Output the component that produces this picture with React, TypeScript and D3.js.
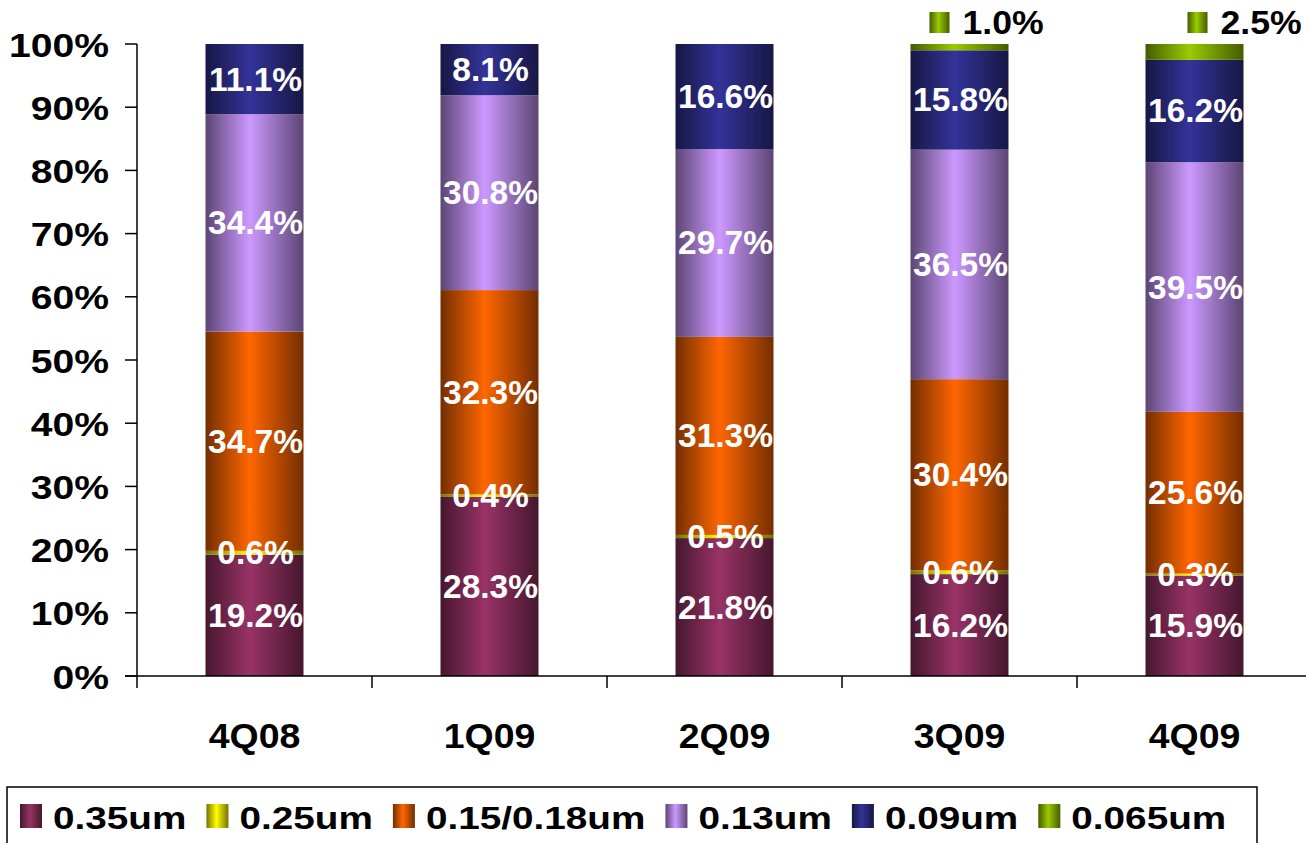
import React from "react";
import * as d3 from "d3";

const categories = ["4Q08", "1Q09", "2Q09", "3Q09", "4Q09"];
const seriesNames = ["0.35um", "0.25um", "0.15/0.18um", "0.13um", "0.09um", "0.065um"];
const seriesColors = ["#993366", "#FFFF00", "#FF6600", "#CC99FF", "#333399", "#99CC00"];
const s035 = [19.2, 28.3, 21.8, 16.2, 15.9];
const s025 = [0.6, 0.4, 0.5, 0.6, 0.3];
const s015 = [34.7, 32.3, 31.3, 30.4, 25.6];
const s013 = [34.4, 30.8, 29.7, 36.5, 39.5];
const s009 = [11.1, 8.1, 16.6, 15.8, 16.2];
const s0065 = [0, 0, 0, 1.0, 2.5];
const yTicks = [0, 10, 20, 30, 40, 50, 60, 70, 80, 90, 100];

const W = 1306;
const H = 843;
const FONT = "'Liberation Sans', Arial, Helvetica, sans-serif";

function darken(c: string, k: number) {
  const col = d3.rgb(c);
  return d3.rgb(col.r * k, col.g * k, col.b * k).formatHex();
}

function SText(props: { x: number; y: number; sx: number; size: number; fill: string; anchor: string; children: any }) {
  return (
    <text
      transform={`translate(${props.x},${props.y}) scale(${props.sx},1)`}
      textAnchor={props.anchor as any}
      dominantBaseline="central"
      fontFamily={FONT}
      fontWeight="bold"
      fontSize={props.size}
      fill={props.fill}
    >
      {props.children}
    </text>
  );
}

export default function App() {
  const series = [s035, s025, s015, s013, s009, s0065];
  const left = 137;
  const bottom = 676;
  const top = 44;
  const x = d3.scaleBand<string>().domain(categories).range([left, left + 235 * 5]).padding(0);
  const y = d3.scaleLinear().domain([0, 100]).range([bottom, top]);
  const barW = x.bandwidth() * 0.417;
  const topLabelShift = [0, 0, 0, 0, 23];

  const rows = categories.map((c, i) => {
    const r: any = { cat: c };
    seriesNames.forEach((n, j) => (r[n] = series[j][i]));
    return r;
  });
  const stack = d3.stack<any>().keys(seriesNames).offset(d3.stackOffsetExpand);
  const stacked = stack(rows);

  const legSize = 32;
  const legSx = 1.21;
  const measure = (() => {
    const cv = document.createElement("canvas");
    const ctx = cv.getContext("2d")!;
    ctx.font = `bold ${legSize}px ${FONT}`;
    return (t: string) => ctx.measureText(t).width;
  })();

  let lx = 20;
  const legendItems = seriesNames.map((n, i) => {
    const item = { name: n, color: seriesColors[i], x: lx };
    lx += 33 + measure(n) * legSx + 20;
    return item;
  });

  return (
    <svg width={W} height={H} style={{ position: "absolute", left: 0, top: 0, background: "#fff" }}>
      <defs>
        {seriesColors.map((c, i) => (
          <linearGradient id={`g${i}`} key={i} x1="0" x2="1" y1="0" y2="0">
            <stop offset="0" stopColor={darken(c, 0.45)} />
            <stop offset="0.45" stopColor={c} />
            <stop offset="1" stopColor={darken(c, 0.45)} />
          </linearGradient>
        ))}
      </defs>

      {stacked.map((s, j) => (
        <g key={j}>
          {s.map((d, i) => {
            const cx = (x(categories[i]) as number) + x.bandwidth() / 2;
            const y0 = y(d[0] * 100);
            const y1 = y(d[1] * 100);
            if (y0 - y1 <= 0) return null;
            return (
              <rect key={i} x={cx - barW / 2} y={y1} width={barW} height={y0 - y1} fill={`url(#g${j})`} />
            );
          })}
        </g>
      ))}

      {stacked.map((s, j) => (
        <g key={"l" + j}>
          {s.map((d, i) => {
            const v = series[j][i];
            if (!v) return null;
            const cx = (x(categories[i]) as number) + x.bandwidth() / 2;
            const ym = y(((d[0] + d[1]) / 2) * 100);
            if (j === 5) {
              const bx = cx + topLabelShift[i];
              return (
                <g key={i}>
                  <rect x={bx - 30} y={12} width={20} height={21} fill={`url(#g${j})`} />
                  <SText x={bx + 3} y={22} sx={1.08} size={33} fill="#000" anchor="start">
                    {v.toFixed(1) + "%"}
                  </SText>
                </g>
              );
            }
            return (
              <SText key={i} x={cx + 1} y={ym} sx={1.0} size={33.5} fill="#fff" anchor="middle">
                {v.toFixed(1) + "%"}
              </SText>
            );
          })}
        </g>
      ))}

      {/* axes */}
      <line x1={left} x2={left} y1={top} y2={bottom} stroke="#000" strokeWidth={1.5} />
      <line x1={left - 12} x2={W} y1={bottom} y2={bottom} stroke="#000" strokeWidth={1.5} />
      {yTicks.map((t) => (
        <g key={t}>
          <line x1={left - 12} x2={left} y1={y(t)} y2={y(t)} stroke="#000" strokeWidth={1.5} />
          <SText x={109} y={y(t) + 1} sx={1.15} size={34} fill="#000" anchor="end">
            {t + "%"}
          </SText>
        </g>
      ))}
      {categories.concat(["end"]).map((c, i) => (
        <line key={i} x1={left + i * x.step()} x2={left + i * x.step()} y1={bottom} y2={bottom + 12} stroke="#000" strokeWidth={1.5} />
      ))}
      {categories.map((c) => (
        <SText key={c} x={(x(c) as number) + x.bandwidth() / 2} y={736} sx={1.07} size={35} fill="#000" anchor="middle">
          {c}
        </SText>
      ))}

      {/* legend */}
      <rect x={7} y={787} width={1250} height={70} fill="#fff" stroke="#000" strokeWidth={1.5} />
      {legendItems.map((it, i) => (
        <g key={i}>
          <rect x={it.x} y={804} width={22} height={24} fill={`url(#g${i})`} />
          <SText x={it.x + 33} y={818} sx={legSx} size={legSize} fill="#000" anchor="start">
            {it.name}
          </SText>
        </g>
      ))}
    </svg>
  );
}
